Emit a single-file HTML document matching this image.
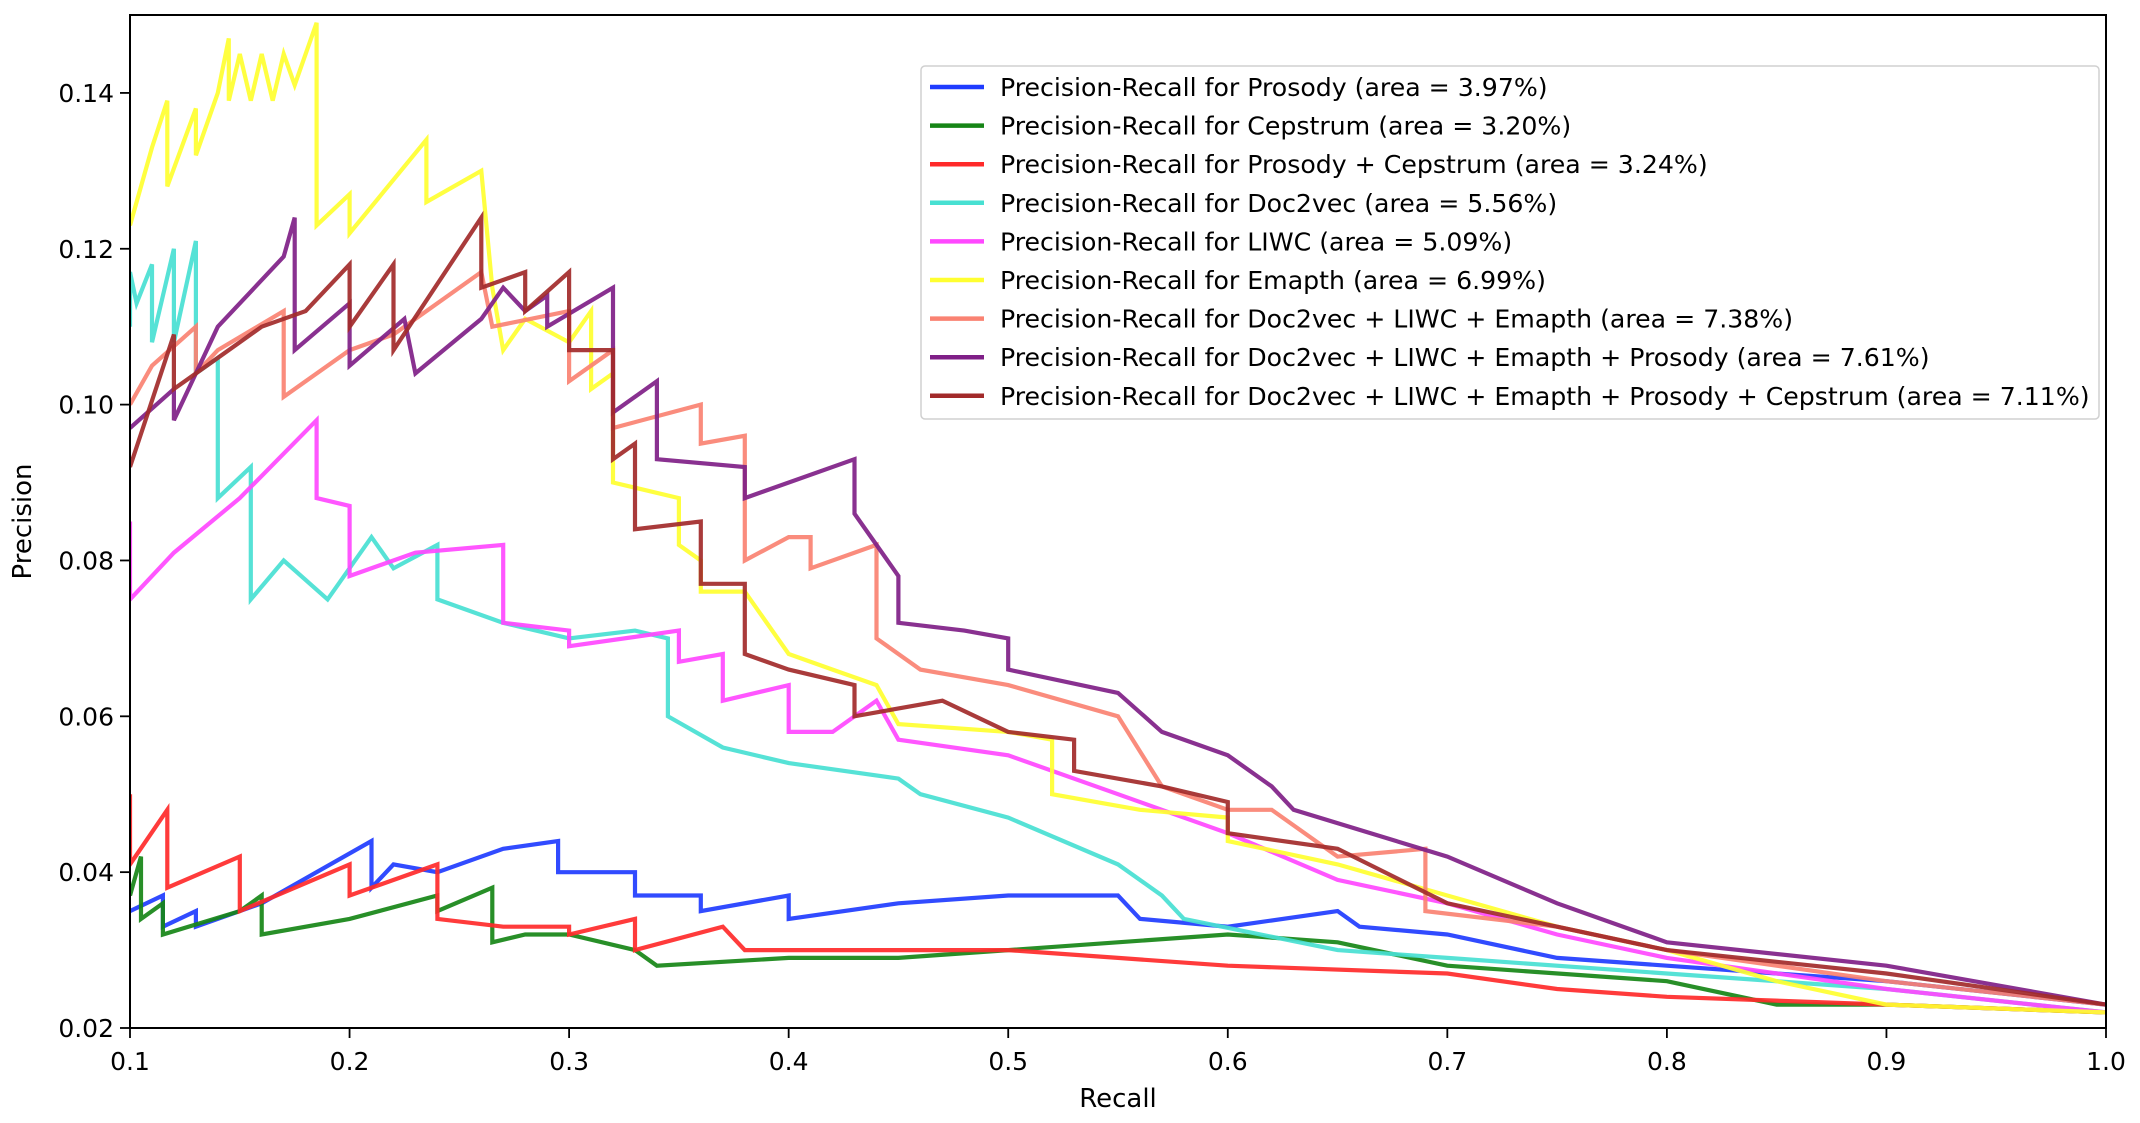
<!DOCTYPE html>
<html><head><meta charset="utf-8"><style>
html,body{margin:0;padding:0;background:#fff;}
svg text{font-family:"DejaVu Sans","Liberation Sans",sans-serif;fill:#000;}
</style></head><body>
<svg id="chart" width="2140" height="1118" viewBox="0 0 2140 1118" xmlns="http://www.w3.org/2000/svg">
<rect width="2140" height="1118" fill="#fff"/>
<g id="series"></g>
<g id="axes"></g>
<g id="legend"></g>
</svg>
<script>
const xTicks = [0.1,0.2,0.3,0.4,0.5,0.6,0.7,0.8,0.9,1.0];
const xTickLabels = ["0.1","0.2","0.3","0.4","0.5","0.6","0.7","0.8","0.9","1.0"];
const yTicks = [0.02,0.04,0.06,0.08,0.10,0.12,0.14];
const yTickLabels = ["0.02","0.04","0.06","0.08","0.10","0.12","0.14"];
const seriesNames = ["Precision-Recall for Prosody (area = 3.97%)","Precision-Recall for Cepstrum (area = 3.20%)","Precision-Recall for Prosody + Cepstrum (area = 3.24%)","Precision-Recall for Doc2vec (area = 5.56%)","Precision-Recall for LIWC (area = 5.09%)","Precision-Recall for Emapth (area = 6.99%)","Precision-Recall for Doc2vec + LIWC + Emapth (area = 7.38%)","Precision-Recall for Doc2vec + LIWC + Emapth + Prosody (area = 7.61%)","Precision-Recall for Doc2vec + LIWC + Emapth + Prosody + Cepstrum (area = 7.11%)"];
const seriesColors = ["#1f3cff","#168516","#ff2a2a","#48e0d2","#ff48ff","#ffff30","#fa8272","#7f1f87","#a22a2a"];

const prosodyRecall = [0.1,0.115,0.115,0.13,0.13,0.16,0.21,0.21,0.22,0.24,0.27,0.295,0.295,0.33,0.33,0.36,0.36,0.4,0.4,0.45,0.5,0.55,0.56,0.6,0.65,0.66,0.7,0.75,0.8,0.9,1.0];
const prosodyPrecision = [0.035,0.037,0.033,0.035,0.033,0.036,0.044,0.038,0.041,0.040,0.043,0.044,0.040,0.040,0.037,0.037,0.035,0.037,0.034,0.036,0.037,0.037,0.034,0.033,0.035,0.033,0.032,0.029,0.028,0.026,0.023];
const cepstrumRecall = [0.1,0.105,0.105,0.115,0.115,0.15,0.16,0.16,0.2,0.24,0.24,0.265,0.265,0.28,0.3,0.33,0.34,0.4,0.45,0.5,0.6,0.65,0.7,0.8,0.85,0.9,1.0];
const cepstrumPrecision = [0.037,0.042,0.034,0.036,0.032,0.035,0.037,0.032,0.034,0.037,0.035,0.038,0.031,0.032,0.032,0.030,0.028,0.029,0.029,0.030,0.032,0.031,0.028,0.026,0.023,0.023,0.022];
const prosCepRecall = [0.1,0.1,0.117,0.117,0.15,0.15,0.2,0.2,0.24,0.24,0.27,0.3,0.3,0.33,0.33,0.37,0.38,0.4,0.5,0.55,0.6,0.7,0.75,0.8,0.9,1.0];
const prosCepPrecision = [0.050,0.041,0.048,0.038,0.042,0.035,0.041,0.037,0.041,0.034,0.033,0.033,0.032,0.034,0.030,0.033,0.030,0.030,0.030,0.029,0.028,0.027,0.025,0.024,0.023,0.022];
const doc2vecRecall = [0.1,0.1,0.103,0.11,0.11,0.12,0.12,0.13,0.13,0.14,0.14,0.155,0.155,0.17,0.19,0.21,0.22,0.24,0.24,0.27,0.3,0.33,0.345,0.345,0.37,0.4,0.45,0.46,0.5,0.55,0.57,0.58,0.65,0.7,0.8,0.9,1.0];
const doc2vecPrecision = [0.110,0.117,0.113,0.118,0.108,0.120,0.108,0.121,0.104,0.106,0.088,0.092,0.075,0.080,0.075,0.083,0.079,0.082,0.075,0.072,0.070,0.071,0.070,0.060,0.056,0.054,0.052,0.050,0.047,0.041,0.037,0.034,0.030,0.029,0.027,0.025,0.022];
const liwcRecall = [0.1,0.1,0.12,0.15,0.185,0.185,0.2,0.2,0.23,0.27,0.27,0.3,0.3,0.35,0.35,0.37,0.37,0.4,0.4,0.42,0.44,0.45,0.5,0.55,0.57,0.6,0.65,0.7,0.75,0.8,0.9,1.0];
const liwcPrecision = [0.085,0.075,0.081,0.088,0.098,0.088,0.087,0.078,0.081,0.082,0.072,0.071,0.069,0.071,0.067,0.068,0.062,0.064,0.058,0.058,0.062,0.057,0.055,0.050,0.048,0.045,0.039,0.036,0.032,0.029,0.025,0.022];
const emapthRecall = [0.1,0.11,0.117,0.117,0.13,0.13,0.14,0.145,0.145,0.15,0.155,0.16,0.165,0.17,0.175,0.185,0.185,0.2,0.2,0.235,0.235,0.26,0.265,0.27,0.28,0.3,0.31,0.31,0.32,0.32,0.35,0.35,0.36,0.36,0.38,0.4,0.42,0.44,0.45,0.5,0.52,0.52,0.56,0.6,0.6,0.65,0.7,0.75,0.8,0.85,0.9,1.0];
const emapthPrecision = [0.123,0.133,0.139,0.128,0.138,0.132,0.140,0.147,0.139,0.145,0.139,0.145,0.139,0.145,0.141,0.149,0.123,0.127,0.122,0.134,0.126,0.130,0.115,0.107,0.111,0.108,0.112,0.102,0.104,0.090,0.088,0.082,0.080,0.076,0.076,0.068,0.066,0.064,0.059,0.058,0.057,0.050,0.048,0.047,0.044,0.041,0.037,0.033,0.030,0.026,0.023,0.022];
const dleRecall = [0.1,0.11,0.13,0.13,0.14,0.17,0.17,0.2,0.22,0.26,0.265,0.3,0.3,0.32,0.32,0.36,0.36,0.38,0.38,0.4,0.41,0.41,0.44,0.44,0.46,0.5,0.55,0.57,0.6,0.62,0.65,0.69,0.69,0.75,0.8,0.9,1.0];
const dlePrecision = [0.100,0.105,0.110,0.104,0.107,0.112,0.101,0.107,0.109,0.117,0.110,0.112,0.103,0.107,0.097,0.100,0.095,0.096,0.080,0.083,0.083,0.079,0.082,0.070,0.066,0.064,0.060,0.051,0.048,0.048,0.042,0.043,0.035,0.033,0.030,0.026,0.023];
const dlepRecall = [0.1,0.12,0.12,0.14,0.17,0.175,0.175,0.2,0.2,0.225,0.23,0.26,0.27,0.28,0.29,0.29,0.32,0.32,0.34,0.34,0.38,0.38,0.43,0.43,0.45,0.45,0.48,0.5,0.5,0.55,0.57,0.6,0.62,0.63,0.7,0.75,0.8,0.9,1.0];
const dlepPrecision = [0.097,0.102,0.098,0.110,0.119,0.124,0.107,0.113,0.105,0.111,0.104,0.111,0.115,0.112,0.114,0.110,0.115,0.099,0.103,0.093,0.092,0.088,0.093,0.086,0.078,0.072,0.071,0.070,0.066,0.063,0.058,0.055,0.051,0.048,0.042,0.036,0.031,0.028,0.023];
const dlepcRecall = [0.1,0.12,0.12,0.14,0.16,0.18,0.2,0.2,0.22,0.22,0.26,0.26,0.28,0.28,0.3,0.3,0.32,0.32,0.33,0.33,0.36,0.36,0.38,0.38,0.4,0.43,0.43,0.47,0.5,0.53,0.53,0.57,0.6,0.6,0.65,0.7,0.75,0.8,0.9,1.0];
const dlepcPrecision = [0.092,0.109,0.102,0.106,0.110,0.112,0.118,0.110,0.118,0.107,0.124,0.115,0.117,0.112,0.117,0.107,0.107,0.093,0.095,0.084,0.085,0.077,0.077,0.068,0.066,0.064,0.060,0.062,0.058,0.057,0.053,0.051,0.049,0.045,0.043,0.036,0.033,0.030,0.027,0.023];

const recalls = [prosodyRecall,cepstrumRecall,prosCepRecall,doc2vecRecall,liwcRecall,emapthRecall,dleRecall,dlepRecall,dlepcRecall];
const precisions = [prosodyPrecision,cepstrumPrecision,prosCepPrecision,doc2vecPrecision,liwcPrecision,emapthPrecision,dlePrecision,dlepPrecision,dlepcPrecision];
const seriesKeys = ["prosody","cepstrum","prosody-cepstrum","doc2vec","liwc","emapth","doc2vec-liwc-emapth","doc2vec-liwc-emapth-prosody","doc2vec-liwc-emapth-prosody-cepstrum"];

const L=130,R=2106,T=15,B=1028, X0=0.1,X1=1.0,Y0=0.02,Y1=0.15;
const sx=v=>L+(v-X0)/(X1-X0)*(R-L);
const sy=v=>B-(v-Y0)/(Y1-Y0)*(B-T);
const NS="http://www.w3.org/2000/svg";
function mk(tag,attrs,parent){const e=document.createElementNS(NS,tag);for(const k in attrs)e.setAttribute(k,attrs[k]);parent.appendChild(e);return e;}

const sg=document.getElementById('series');
const clip=mk('clipPath',{id:'plotclip'},document.getElementById('chart'));
mk('rect',{x:L,y:T,width:R-L,height:B-T},clip);
sg.setAttribute('clip-path','url(#plotclip)');
for(let i=0;i<recalls.length;i++){
  const pts=recalls[i].map((r,j)=>sx(r).toFixed(1)+','+sy(precisions[i][j]).toFixed(1)).join(' ');
  const pl=mk('polyline',{points:pts,fill:'none',stroke:seriesColors[i],'stroke-width':4.2,'stroke-linejoin':'miter','stroke-opacity':0.92},sg);
  
  
}

const ax=document.getElementById('axes');
const frame=mk('rect',{x:L,y:T,width:R-L,height:B-T,fill:'none',stroke:'#000','stroke-width':2},ax);


xTicks.forEach((v,i)=>{
  mk('line',{x1:sx(v),x2:sx(v),y1:B,y2:B+10,stroke:'#000','stroke-width':1.8},ax);
  const t=mk('text',{x:sx(v),y:B+42,'text-anchor':'middle','font-size':25},ax);
  t.textContent=xTickLabels[i];
  
  
});
yTicks.forEach((v,i)=>{
  mk('line',{x1:L-10,x2:L,y1:sy(v),y2:sy(v),stroke:'#000','stroke-width':1.8},ax);
  const t=mk('text',{x:L-16,y:sy(v)+9,'text-anchor':'end','font-size':25},ax);
  t.textContent=yTickLabels[i];
  
  
});
const xl=mk('text',{x:(L+R)/2,y:1107,'text-anchor':'middle','font-size':26},ax);
xl.textContent='Recall';


const yl=mk('text',{x:0,y:0,'text-anchor':'middle','font-size':26,transform:'translate(31,'+((T+B)/2)+') rotate(-90)'},ax);
yl.textContent='Precision';



const lg=document.getElementById('legend');
const box=mk('rect',{x:921,y:66,width:1178,height:353,rx:4,fill:'#fff','fill-opacity':0.9,stroke:'#d0d0d0','stroke-width':1.5},lg);


seriesNames.forEach((n,i)=>{
  const y=87+i*38.6;
  const ln=mk('line',{x1:930,x2:984,y1:y,y2:y,stroke:seriesColors[i],'stroke-width':4.5},lg);
  
  
  const t=mk('text',{x:1000,y:y+9,'font-size':25.2},lg);
  t.textContent=n;
  
  
});
</script>
</body></html>
